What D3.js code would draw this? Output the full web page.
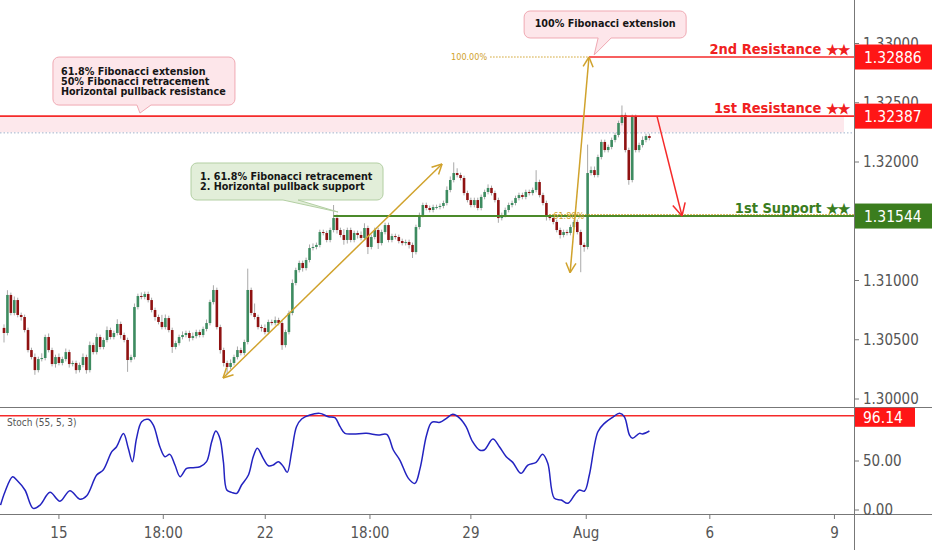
<!DOCTYPE html>
<html><head><meta charset="utf-8">
<script src="https://cdn.jsdelivr.net/npm/d3@7"></script>
<style>body{margin:0;background:#fff}svg{display:block}</style>
</head><body>
<svg id="c" width="932" height="550"></svg>
<script>
// ---------- data ----------
const firstOpen = 1.30600;
const closes = [
1.30557,1.30878,1.30726,1.30835,1.30709,1.30692,1.30582,1.30413,1.30354,1.30244,
1.30337,1.30346,1.30523,1.30413,1.30295,1.30354,1.30304,1.30337,1.30396,1.30295,
1.30304,1.30244,1.30287,1.30354,1.30244,1.30455,1.30396,1.30523,1.30439,1.30498,
1.30582,1.30523,1.30557,1.30633,1.30540,1.30498,1.30329,1.30354,1.30776,1.30869,
1.30861,1.30886,1.30835,1.30751,1.30692,1.30650,1.30607,1.30683,1.30582,1.30439,
1.30472,1.30523,1.30540,1.30557,1.30515,1.30531,1.30565,1.30540,1.30591,1.30641,
1.30818,1.30920,1.30607,1.30413,1.30304,1.30270,1.30304,1.30354,1.30413,1.30388,
1.30481,1.30920,1.30726,1.30692,1.30607,1.30599,1.30565,1.30650,1.30641,1.30666,
1.30641,1.30455,1.30565,1.30726,1.30979,1.31088,1.31148,1.31105,1.31173,1.31274,
1.31283,1.31300,1.31409,1.31401,1.31342,1.31426,1.31527,1.31426,1.31384,1.31342,
1.31426,1.31342,1.31401,1.31384,1.31359,1.31443,1.31283,1.31367,1.31426,1.31316,
1.31409,1.31468,1.31342,1.31375,1.31367,1.31333,1.31316,1.31325,1.31300,1.31240,
1.31451,1.31553,1.31637,1.31612,1.31595,1.31620,1.31620,1.31629,1.31654,1.31764,
1.31848,1.31907,1.31890,1.31865,1.31738,1.31679,1.31637,1.31679,1.31612,1.31705,
1.31747,1.31781,1.31738,1.31679,1.31527,1.31553,1.31595,1.31637,1.31654,1.31696,
1.31721,1.31705,1.31747,1.31738,1.31764,1.31831,1.31721,1.31654,1.31536,1.31527,
1.31494,1.31426,1.31384,1.31409,1.31401,1.31451,1.31494,1.31409,1.31300,1.31283,
1.31907,1.31932,1.31890,1.32042,1.32169,1.32101,1.32127,1.32186,1.32228,1.32329,
1.32397,1.32101,1.31848,1.32380,1.32101,1.32143,1.32186,1.32219,1.32203];
// wick lengths in pips beyond the body
const wickUp = [
3,4,2,3,2,2,2,2,2,3, 2,4,2,3,2,2,3,2,3,2, 2,2,2,3,2,3,2,3,2,2, 3,2,2,4,2,2,2,2,3,2,
3,2,2,2,2,2,6,3,2,2, 2,2,3,2,2,3,2,2,2,3, 2,4,2,2,2,2,3,2,3,2, 2,18,2,8,2,2,3,2,2,3,
2,2,2,2,3,2,2,2,2,3, 3,2,2,2,2,2,11,3,2,5, 2,2,2,2,3,4,2,2,2,2, 2,2,2,2,2,2,2,2,2,2,
2,2,2,2,2,2,2,2,2,3, 3,9,4,2,2,2,2,2,2,2, 2,3,2,2,2,2,2,2,2,2, 2,2,2,2,2,10,2,2,2,2,
2,2,2,2,2,2,2,2,2,2, 24,3,3,2,2,2,2,2,2,2, 8,2,2,2,2,2,3,2,2];
const wickDn = [
8,2,2,2,2,3,2,2,2,4, 2,2,2,2,2,3,2,2,2,3, 2,3,2,2,3,2,2,2,2,2, 2,2,2,2,3,2,10,2,2,2,
2,2,2,2,3,2,2,2,2,5, 2,2,2,2,3,2,2,2,2,2, 2,2,2,3,3,6,2,2,2,2, 2,2,2,2,2,3,2,2,2,2,
2,4,2,2,2,2,2,3,2,2, 2,2,2,2,2,2,2,3,2,4, 3,2,2,3,2,2,6,2,2,5, 2,2,2,2,2,2,2,2,3,5,
2,2,2,2,2,2,2,2,2,2, 2,2,2,2,2,2,2,2,2,2, 2,2,2,2,4,2,2,2,2,2, 2,2,2,2,2,2,2,2,3,2,
2,2,3,2,2,2,2,2,23,4, 2,2,2,2,2,2,2,2,2,2, 2,2,4,2,2,2,2,2,2];
const stochAt = [-1,0.3,2.5,3.7,6.1,8.5,10.5,13.4,16.3,19.2,22.1,24.1,27,28.9,31.4,32.8,34.8,36.2,37.4,38.6,
40.1,42,43.5,45.4,46.9,48.3,49.8,51.3,53.2,55.1,57.1,59,60.5,61.7,62.9,63.9,64.9,66.3,67.8,69.2,
71.2,72.6,73.8,75.5,77,78.4,79.9,81.4,82.5,83.8,85.2,86.7,89.1,92,94.5,96.4,97.9,99.3,101.7,105.6,
109,111.5,113.4,115.3,117.8,119.7,121.2,123.1,124.6,127,128.9,130.7,132.8,134.6,136.5,138.5,139.9,142.4,144.3,146.3,
148.2,150.6,152.6,155,156.9,158.4,160.3,162.3,164.2,166.2,167.6,169.1,170.5,173,174.9,177.3,179.3,180.7,182.2,183.1,
185.1,186,188];
const stochVal = [5,18.7,34,30.6,20.4,1.7,5,18,9,19.7,11,14.6,35.7,40.8,59.5,64.6,78,63,49.3,73,
90,92.5,86.7,64.6,54.4,56.8,45.9,34,42.5,43.2,44.2,49.3,69.7,80.6,73,49.3,20.4,18,17,25.5,
35.7,54.4,63,52.7,45.2,45.9,49.3,44.2,38.4,59.5,85,92.9,97,98.6,95.2,94.2,85,78.2,77.6,78.2,
76.5,77.2,61.2,51,32.3,27.2,42.5,76.5,89.5,89.5,93.5,97.6,93.5,85,69.7,61.2,61.2,72.4,64.6,54.4,
48.6,37.4,45.9,48.6,56.8,47.6,11.9,10.2,6.8,15.3,20.4,19.4,35.7,79.9,88.4,94.6,98.6,95.2,76.5,73.2,
78.2,77.6,80.6];
const priceTicks = [1.30,1.305,1.31,1.32,1.325,1.33];
const stochTicks = [0,50];
const timeTickAt = [16,46.4,76.1,106.6,136,169.6,205.6,241.9];
const timeTickLabels = ["15","18:00","22","18:00","29","Aug","6","9"];
const levelNames = ["2nd Resistance","1st Resistance","1st Support"];
const levelStars = "★★";
const levelValues = [1.32886,1.32387,1.31544];
const levelStart = [170.4,-2,96];
const stochLevel = 96.14;
const zoneLow = 1.3225;
const fibArrow1 = [[63.8,1.30177],[127.6,1.31983]];
const fibArrow2 = [[164.9,1.31066],[170.4,1.32886]];
const redArrow = [[190.2,1.32387],[197.5,1.31544]];
const fib100Start = 141.6, fib618At = 160;
const notes = [
  {lines:["61.8% Fibonacci extension","50% Fibonacci retracement","Horizontal pullback resistance"], at:[39.6,1.32413], kind:"pink"},
  {lines:["1. 61.8% Fibonacci retracement","2. Horizontal pullback support"], at:[97.3,1.31578], kind:"green"},
  {lines:["100% Fibonacci extension"], at:[171.9,1.32903], kind:"pink"}
];

// ---------- layout ----------
const W=932,H=550, axisX=854, sepY=407, botY=514;
const FONT="'DejaVu Sans Condensed','DejaVu Sans',sans-serif";
const GOLD="#d0a22c", RED="#f52a2a", GREENL="#4b8a2a", GREENBOX="#3b7d1e";
const svg=d3.select("#c");
const x=d3.scaleLinear().domain([0,240]).range([4,4+240*3.433]);
const y=d3.scaleLinear().domain([1.30,1.33]).range([399,43.5]);
const ys=d3.scaleLinear().domain([0,100]).range([510,412]);

const defs=svg.append("defs");
defs.append("clipPath").attr("id","pc").append("rect").attr("x",0).attr("y",0).attr("width",axisX).attr("height",sepY);
defs.append("clipPath").attr("id","sc").append("rect").attr("x",0).attr("y",sepY+1).attr("width",axisX).attr("height",botY-sepY-1);

const pane=svg.append("g").attr("clip-path","url(#pc)");

// zone band
pane.append("rect").attr("x",0).attr("width",844).attr("y",y(levelValues[1])).attr("height",y(zoneLow)-y(levelValues[1])).attr("fill","#fde8ec");
pane.append("line").attr("x1",0).attr("x2",axisX).attr("y1",y(zoneLow)+0.5).attr("y2",y(zoneLow)+0.5)
  .attr("stroke","#9fb3cc").attr("stroke-dasharray","1.5,2");

// candles
const bars=closes.map((c,i)=>{const o=i?closes[i-1]:firstOpen;
  return {i,o,c,h:Math.max(o,c)+wickUp[i]*1e-4,l:Math.min(o,c)-wickDn[i]*1e-4};});
pane.append("g").selectAll("line").data(bars).join("line")
  .attr("x1",d=>x(d.i)).attr("x2",d=>x(d.i)).attr("y1",d=>y(d.h)).attr("y2",d=>y(d.l))
  .attr("stroke","#a9a9a9").attr("stroke-width",1);
pane.append("g").selectAll("rect").data(bars).join("rect")
  .attr("x",d=>x(d.i)-1.3).attr("width",2.6)
  .attr("y",d=>y(Math.max(d.o,d.c))).attr("height",d=>Math.max(1,Math.abs(y(d.o)-y(d.c))))
  .attr("fill",d=>d.c>=d.o?"#3d8b60":"#8f1212");

// fib dotted lines and labels
pane.append("line").attr("x1",x(fib100Start)).attr("x2",x(fibArrow2[1][0])).attr("y1",y(levelValues[0])).attr("y2",y(levelValues[0]))
  .attr("stroke",GOLD).attr("stroke-dasharray","1.5,1.5").attr("stroke-width",1);
pane.append("text").attr("x",x(fib100Start)-3).attr("y",y(levelValues[0])+3).attr("text-anchor","end")
  .attr("font-family",FONT).attr("font-size",9).attr("fill",GOLD).text("100.00%");
pane.append("line").attr("x1",x(fib618At)-4).attr("x2",axisX).attr("y1",y(levelValues[2])-1.5).attr("y2",y(levelValues[2])-1.5)
  .attr("stroke",GOLD).attr("stroke-dasharray","1.5,1.5").attr("stroke-width",1);

// level lines
levelValues.forEach((v,k)=>{
  const col=k<2?RED:GREENL;
  pane.append("line").attr("x1",x(levelStart[k])).attr("x2",axisX).attr("y1",y(v)).attr("y2",y(v))
    .attr("stroke",col).attr("stroke-width",k<2?1.6:2);
  const t=pane.append("text").attr("x",849).attr("y",y(v)-3.5).attr("text-anchor","end")
    .attr("font-family",FONT).attr("font-weight","bold").attr("font-size",14.5).attr("fill",k<2?"#f02020":GREENBOX);
  t.append("tspan").text(levelNames[k]+" ");
  t.append("tspan").attr("font-family","'Noto Sans CJK SC','DejaVu Sans',sans-serif").attr("font-size",13).attr("letter-spacing",-1.5).text(levelStars);
});
pane.append("text").attr("x",x(fib618At)).attr("y",y(levelValues[2])+3).attr("font-family",FONT)
  .attr("font-size",9).attr("fill",GOLD).text("61.80%");

// arrows
function arrow(g,p,q,col,len,both){
  const P=[x(p[0]),y(p[1])],Q=[x(q[0]),y(q[1])];
  g.append("line").attr("x1",P[0]).attr("y1",P[1]).attr("x2",Q[0]).attr("y2",Q[1]).attr("stroke",col).attr("stroke-width",1.5);
  const head=(A,B)=>{const a=Math.atan2(A[1]-B[1],A[0]-B[0]);
    [a+Math.PI*0.85,a-Math.PI*0.85].forEach(t=>g.append("line").attr("x1",A[0]).attr("y1",A[1])
      .attr("x2",A[0]+len*Math.cos(t)).attr("y2",A[1]+len*Math.sin(t)).attr("stroke",col).attr("stroke-width",1.5));};
  head(Q,P); if(both) head(P,Q);
}
arrow(pane,fibArrow1[0],fibArrow1[1],GOLD,11,true);
arrow(pane,fibArrow2[0],fibArrow2[1],GOLD,11,true);
arrow(pane,redArrow[0],redArrow[1],RED,14,false);

// callouts
function callout(x0,y0,w,h,r,t1,t2,tx,ty){
  return `M${x0+r},${y0}H${x0+w-r}A${r},${r} 0 0 1 ${x0+w},${y0+r}V${y0+h-r}A${r},${r} 0 0 1 ${x0+w-r},${y0+h}`+
   `H${t2}L${tx},${ty}L${t1},${y0+h}H${x0+r}A${r},${r} 0 0 1 ${x0},${y0+h-r}V${y0+r}A${r},${r} 0 0 1 ${x0+r},${y0}Z`;
}
const boxGeo=[{dx:-87,dy:-56,w:182,h:48,t1:-3,t2:11,tx0:8,base0:18},
              {dx:-147,dy:-49,w:192,h:37,t1:-55,t2:-40,tx0:9,base0:16.5},
              {dx:-70,dy:-44,w:162,h:27,t1:4,t2:17,tx0:81,base0:16.5}];
notes.forEach((n,k)=>{
  const tx=x(n.at[0]),ty=y(n.at[1]),g=boxGeo[k];
  const bx=tx+g.dx,by=ty+g.dy;
  svg.append("path").attr("d",callout(bx,by,g.w,g.h,6,tx+g.t1,tx+g.t2,tx,ty))
    .attr("fill",n.kind==="pink"?"#fde6ea":"#e2eed9").attr("stroke",n.kind==="pink"?"#f0a9b3":"#b3cfa3").attr("stroke-width",1);
  const t=svg.append("text").attr("x",bx+g.tx0).attr("y",by+g.base0)
    .attr("text-anchor",k===2?"middle":"start")
    .attr("font-family",FONT).attr("font-weight","bold").attr("font-size",10.7).attr("fill","#151515");
  n.lines.forEach((s,j)=>t.append("tspan").attr("x",bx+g.tx0).attr("dy",j?10.2:0).text(s));
});

// stochastic pane
const sp=svg.append("g").attr("clip-path","url(#sc)");
sp.append("line").attr("x1",0).attr("x2",axisX).attr("y1",ys(stochLevel)).attr("y2",ys(stochLevel)).attr("stroke",RED).attr("stroke-width",1.6);
sp.append("path").datum(stochAt.map((b,i)=>[b,stochVal[i]]))
  .attr("d",d3.line().x(d=>x(d[0])).y(d=>ys(d[1])).curve(d3.curveCatmullRom.alpha(0.5)))
  .attr("fill","none").attr("stroke","#2323c0").attr("stroke-width",1.5);
svg.append("text").attr("x",7).attr("y",426).attr("font-family",FONT).attr("font-size",10).attr("fill","#555").text("Stoch (55, 5, 3)");

// frame lines
svg.append("line").attr("x1",axisX+0.5).attr("x2",axisX+0.5).attr("y1",0).attr("y2",H).attr("stroke","#777");
svg.append("line").attr("x1",0).attr("x2",W).attr("y1",sepY+0.5).attr("y2",sepY+0.5).attr("stroke","#777");
svg.append("line").attr("x1",0).attr("x2",W).attr("y1",botY+0.5).attr("y2",botY+0.5).attr("stroke","#777");

// price axis
const ax=svg.append("g");
priceTicks.forEach(t=>{
  ax.append("line").attr("x1",axisX).attr("x2",axisX+5).attr("y1",y(t)).attr("y2",y(t)).attr("stroke","#777");
  ax.append("text").attr("x",863).attr("y",y(t)).attr("dy","0.35em").attr("font-family",FONT).attr("font-size",15)
    .attr("fill","#555").text(d3.format(".5f")(t));
});
stochTicks.forEach(t=>{
  ax.append("line").attr("x1",axisX).attr("x2",axisX+5).attr("y1",ys(t)).attr("y2",ys(t)).attr("stroke","#777");
  ax.append("text").attr("x",863).attr("y",ys(t)).attr("dy","0.35em").attr("font-family",FONT).attr("font-size",15)
    .attr("fill","#555").text(d3.format(".2f")(t));
});
svg.append("rect").attr("x",axisX+1).attr("y",botY+1).attr("width",W-axisX-1).attr("height",H-botY-1).attr("fill","#fff");

// level value tags
levelValues.forEach((v,k)=>{
  ax.append("rect").attr("x",axisX+1).attr("width",W-axisX-1).attr("y",y(v)-12.5).attr("height",25).attr("fill",k<2?"#ff1616":GREENBOX);
  ax.append("text").attr("x",864).attr("y",y(v)).attr("dy","0.36em").attr("font-family",FONT).attr("font-size",15.5)
    .attr("fill","#fff").text(d3.format(".5f")(v));
});
ax.append("rect").attr("x",axisX+1).attr("width",60).attr("y",ys(stochLevel)-8).attr("height",19).attr("fill","#ff1616");
ax.append("text").attr("x",863).attr("y",ys(stochLevel)+1.5).attr("dy","0.36em").attr("font-family",FONT).attr("font-size",15.5)
  .attr("fill","#fff").text(d3.format(".2f")(stochLevel));

// time axis
timeTickAt.forEach((b,i)=>{
  svg.append("line").attr("x1",x(b)).attr("x2",x(b)).attr("y1",botY).attr("y2",botY+5).attr("stroke","#777");
  svg.append("text").attr("x",x(b)).attr("y",538).attr("text-anchor","middle").attr("font-family",FONT)
    .attr("font-size",15).attr("fill","#555").text(timeTickLabels[i]);
});
</script>
</body></html>
